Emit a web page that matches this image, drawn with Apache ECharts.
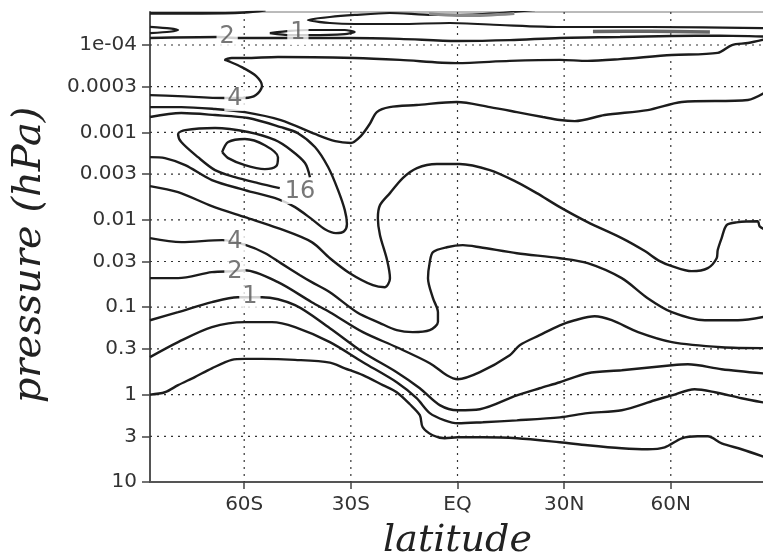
<!DOCTYPE html>
<html>
<head>
<meta charset="utf-8">
<script src="https://cdn.jsdelivr.net/npm/echarts@6/dist/echarts.min.js"></script>
<style>
  html, body { margin: 0; padding: 0; background: #fff; }
  #chart { width: 763px; height: 560px; }
</style>
</head>
<body>
<div id="chart"></div>
<script>
// ---- axes ----
const latMin = -86.5, latMax = 86.5;
const latTicks = [-60, -30, 0, 30, 60];
const latTickLabels = ['60S', '30S', 'EQ', '30N', '60N'];

const pressureTop = 4.19e-5, pressureBottom = 10;   // hPa
const pressureTicks = [1e-4, 3e-4, 1e-3, 3e-3, 0.01, 0.03, 0.1, 0.3, 1, 3, 10];
const pressureTickLabels = ['1e-04', '0.0003', '0.001', '0.003', '0.01', '0.03', '0.1', '0.3', '1', '3', '10'];

// ---- contour lines, [latitude, pressure (hPa)] ----
const contourBottomA = [[-86.5,1.0],[-82.3,0.94],[-78.6,0.78],[-73.9,0.63],[-69.1,0.50],[-63.5,0.40],[-59.8,0.39],[-55.0,0.39],[-45.7,0.40],[-35.9,0.43],[-31.7,0.50],[-26.6,0.60],[-21.0,0.78],[-17.1,0.94],[-13.4,1.29],[-10.6,1.72],[-9.8,2.36],[-7.0,2.92],[-3.6,3.16],[0.1,3.08],[7.1,3.08],[16.7,3.16],[28.8,3.51],[36.6,3.80],[46.2,4.11],[53.5,4.22],[58.3,4.01],[63.1,3.16],[67.6,3.0],[70.4,3.0],[74.3,3.61],[79.9,4.22],[86.5,5.2]];

const contourBottomB = [[-86.5,0.373],[-78.6,0.251],[-69.1,0.169],[-59.8,0.148],[-52.2,0.148],[-45.7,0.169],[-35.9,0.251],[-26.6,0.426],[-17.1,0.722],[-11.5,1.10],[-7.8,1.63],[-3.6,1.97],[0.1,2.13],[7.1,2.07],[16.7,1.97],[28.8,1.82],[36.6,1.63],[46.2,1.51],[55.5,1.16],[60.3,1.02],[66.7,0.868],[72.4,0.94],[79.9,1.10],[86.5,1.24]];

const contour1 = [[-86.5,0.141],[-78.6,0.114],[-69.1,0.0876],[-61.8,0.0768],[-55.0,0.0768],[-45.7,0.0948],[-35.9,0.174],[-26.6,0.327],[-17.1,0.554],[-10.6,0.846],[-5.0,1.32],[0.1,1.51],[6.3,1.47],[16.7,1.02],[23.1,0.846],[28.8,0.722],[36.6,0.569],[46.2,0.526],[60.3,0.461],[64.8,0.449],[74.3,0.512],[86.5,0.575]];

const contour2 = [[-86.5,0.0465],[-78.6,0.0465],[-69.1,0.0397],[-62.6,0.0387],[-59.8,0.0377],[-50.5,0.0517],[-41.0,0.0876],[-35.9,0.114],[-26.6,0.193],[-17.1,0.287],[-7.8,0.437],[-3.0,0.600],[0.1,0.667],[6.3,0.554],[14.7,0.354],[17.5,0.272],[23.1,0.209],[28.8,0.161],[33.0,0.141],[38.6,0.127],[43.4,0.141],[50.8,0.193],[60.3,0.251],[74.3,0.287],[86.5,0.294]];

const contour4 = [[-86.5,0.0162],[-77.7,0.018],[-66.2,0.0171],[-59.5,0.0195],[-54.1,0.0241],[-49.7,0.0313],[-44.3,0.043],[-41.0,0.0517],[-35.9,0.0673],[-28.3,0.114],[-21.8,0.152],[-17.1,0.183],[-12.6,0.193],[-7.8,0.183],[-5.5,0.148],[-5.5,0.114],[-6.9,0.0788],[-8.3,0.0465],[-7.8,0.0305],[-6.9,0.0234],[-3.0,0.0206],[1.5,0.0195],[6.3,0.0206],[16.7,0.0241],[28.8,0.0275],[36.6,0.0313],[46.2,0.0465],[53.5,0.0788],[60.3,0.114],[69.6,0.141],[78.9,0.141],[86.5,0.128]];

const contour8 = [[-86.5,4.11e-3],[-78.6,4.82e-3],[-69.1,6.97e-3],[-59.8,9.32e-3],[-50.5,0.01245],[-41.0,0.018],[-35.9,0.0275],[-30.3,0.0408],[-23.8,0.056],[-20.4,0.059],[-19.0,0.0465],[-19.8,0.029],[-21.8,0.015],[-22.4,9.57e-3],[-21.8,6.79e-3],[-19.0,4.95e-3],[-15.4,3.33e-3],[-11.4,2.56e-3],[-5.8,2.30e-3],[0.6,2.30e-3],[9.1,2.70e-3],[16.7,3.70e-3],[22.3,4.95e-3],[28.8,7.16e-3],[36.6,0.01063],[46.2,0.0162],[52.7,0.0228],[56.9,0.0297],[60.3,0.0339],[65.9,0.0387],[70.4,0.0357],[72.9,0.0275],[73.2,0.0222],[74.3,0.0162],[75.7,0.0115],[78.5,0.0107],[84.4,0.0104],[85.0,0.0119],[86.5,0.013]];

const contour8Loop = [[-86.5,6.67e-4],[-77.7,6.0e-4],[-68.2,6.33e-4],[-58.9,6.85e-4],[-49.7,8.69e-4],[-44.9,1.02e-3],[-40.1,1.47e-3],[-36.4,2.49e-3],[-33.6,4.57e-3],[-31.7,7.75e-3],[-31.1,0.0112],[-31.9,0.0135],[-34.2,0.0142],[-37.3,0.0128],[-41.0,9.82e-3],[-45.7,7.16e-3],[-50.5,5.80e-3],[-59.8,4.57e-3],[-69.1,3.51e-3],[-76.6,2.37e-3],[-82.3,1.97e-3],[-86.5,1.92e-3]];

const contour16 = [[-41.5,3.25e-3],[-42.9,2.24e-3],[-46.9,1.59e-3],[-51.4,1.22e-3],[-58.9,9.9e-4],[-68.2,8.91e-4],[-76.6,9.40e-4],[-78.6,1.04e-3],[-77.7,1.29e-3],[-73.0,1.92e-3],[-68.2,2.70e-3],[-62.6,3.25e-3],[-56.1,3.80e-3],[-50.0,4.34e-3]];

const contour32 = [[-66.2,1.68e-3],[-64.5,1.29e-3],[-59.8,1.19e-3],[-54.2,1.40e-3],[-50.5,1.92e-3],[-51.0,2.43e-3],[-54.2,2.63e-3],[-59.8,2.37e-3],[-64.5,1.97e-3],[-66.2,1.68e-3]];

const contourMeso = [[-86.5,5.13e-4],[-77.7,5.13e-4],[-68.2,5.40e-4],[-59.8,5.85e-4],[-49.7,7.22e-4],[-40.1,1.04e-3],[-34.4,1.26e-3],[-30.0,1.32e-3],[-27.2,1.10e-3],[-24.7,8.02e-4],[-22.7,5.85e-4],[-19.1,5.13e-4],[-11.5,4.86e-4],[-0.2,4.49e-4],[9.1,5.13e-4],[16.7,5.85e-4],[24.0,6.67e-4],[28.8,7.22e-4],[33.0,7.42e-4],[41.4,6.33e-4],[53.5,5.55e-4],[63.1,4.49e-4],[81.7,4.26e-4],[86.5,3.5e-4]];

const contour4Upper = [[-86.5,3.74e-4],[-78.6,3.84e-4],[-65.4,4.04e-4],[-59.8,4.04e-4],[-56.7,3.74e-4],[-55.0,2.95e-4],[-56.7,2.26e-4],[-60.7,1.79e-4],[-64.6,1.52e-4],[-65.4,1.48e-4],[-63.5,1.41e-4],[-59.8,1.41e-4],[-50.5,1.37e-4],[-28.9,1.41e-4],[-16.2,1.48e-4],[-0.2,1.61e-4],[14.7,1.52e-4],[28.8,1.48e-4],[36.6,1.52e-4],[45.7,1.45e-4],[60.3,1.30e-4],[73.2,1.23e-4],[77.2,1.0e-4],[81.7,9.48e-5],[86.5,8.6e-5]];

const contour2Upper = [[-86.5,8.3e-5],[-67.4,8.1e-5],[-61.8,8.3e-5],[-44.3,8.3e-5],[-30.3,8.3e-5],[-16.2,8.5e-5],[-0.2,9.0e-5],[14.7,8.8e-5],[28.8,8.3e-5],[45.7,8.1e-5],[60.3,7.9e-5],[73.8,7.8e-5],[86.5,8.0e-5]];

const contour1Upper = [[-52.8,7.3e-5],[-47.1,6.9e-5],[-41.5,6.73e-5],[-31.7,6.73e-5],[-28.9,7.1e-5],[-31.7,7.5e-5],[-41.5,7.7e-5],[-47.1,7.7e-5],[-52.8,7.3e-5]];

const contourTopTongue = [[-86.5,6.2e-5],[-81.0,6.45e-5],[-78.6,6.75e-5],[-81.0,7.05e-5],[-86.5,7.3e-5]];

const contourTopFold = [[24.5,3.8e-5],[21.2,4.0e-5],[7.1,4.42e-5],[-7.0,4.53e-5],[-19.1,4.30e-5],[-28.9,4.53e-5],[-35.9,4.78e-5],[-42.1,5.17e-5],[-35.9,5.60e-5],[-28.9,5.75e-5],[-16.2,5.75e-5],[-2.2,5.60e-5],[11.9,5.90e-5],[28.8,6.22e-5],[54.1,6.22e-5],[86.5,6.4e-5]];

const contourTopEdge = [[-86.5,4.35e-5],[-72.0,4.35e-5],[-60.0,4.25e-5],[-54.0,4.0e-5]];

const contourTopSliver = [[-8.0,4.4e-5],[0.0,4.6e-5],[8.0,4.55e-5],[16.0,4.35e-5]];
const contourTopLens = [[38.1,7.0e-5],[54.1,6.95e-5],[71.0,7.1e-5]];

// contour labels: [latitude, pressure (hPa), text]
const contourLabels = [
  [-64.8, 8.1e-5, '2'],
  [-44.9, 7.3e-5, '1'],
  [-62.6, 4.15e-4, '4'],
  [-44.3, 4.82e-3, '16'],
  [-62.6, 0.0180, '4'],
  [-62.6, 0.0397, '2'],
  [-58.4, 0.0768, '1']
];

// ---- build chart ----
const lg = (p) => Math.log10(p);
const yMin = lg(pressureTop), yMax = lg(pressureBottom);
const toXY = (arr) => arr.map(d => [d[0], lg(d[1])]);

const lineColor = '#1c1c1c';
function contourSeries(arr, opts) {
  opts = opts || {};
  return {
    type: 'line',
    data: toXY(arr),
    showSymbol: false,
    symbol: 'none',
    smooth: opts.smooth !== undefined ? opts.smooth : 0.3,
    clip: true,
    silent: true,
    z: 5,
    lineStyle: { color: opts.color || lineColor, width: opts.width || 2.4 },
    animation: false
  };
}

const gridDash = { type: [2, 5], color: '#333', width: 1.2 };
const gridSeries = [];
latTicks.forEach(lat => {
  gridSeries.push({
    type: 'line', data: [[lat, yMin], [lat, yMax]], showSymbol: false, symbol: 'none',
    silent: true, z: 1, lineStyle: gridDash, animation: false
  });
});
pressureTicks.filter(p => p < pressureBottom).forEach(p => {
  gridSeries.push({
    type: 'line', data: [[latMin, lg(p)], [latMax, lg(p)]], showSymbol: false, symbol: 'none',
    silent: true, z: 1, lineStyle: gridDash, animation: false
  });
});

const contours = [
  contourSeries(contourBottomA),
  contourSeries(contourBottomB),
  contourSeries(contour1),
  contourSeries(contour2),
  contourSeries(contour4),
  contourSeries(contour8),
  contourSeries(contour8Loop),
  contourSeries(contour16),
  contourSeries(contour32),
  contourSeries(contourMeso),
  contourSeries(contour4Upper),
  contourSeries(contour2Upper),
  contourSeries(contour1Upper, { smooth: 0.2, width: 2.2 }),
  contourSeries(contourTopTongue, { smooth: 0.2, width: 2.2 }),
  contourSeries(contourTopFold, { smooth: 0.25, width: 2.2 }),
  contourSeries(contourTopEdge, { width: 2.6 }),
  contourSeries(contourTopSliver, { width: 3, color: '#888' }),
  contourSeries(contourTopLens, { width: 3.5, color: '#666' })
];

const labelSeries = {
  type: 'scatter',
  data: contourLabels.map(d => ({ name: d[2], value: [d[0], lg(d[1])] })),
  symbolSize: 1,
  itemStyle: { color: 'rgba(0,0,0,0)' },
  silent: true,
  z: 10,
  animation: false,
  label: {
    show: true,
    position: 'inside',
    formatter: (p) => p.name,
    fontFamily: 'DejaVu Sans',
    fontSize: 24,
    color: '#555',
    backgroundColor: '#fff',
    padding: [0, 3]
  }
};

function pressureLabel(v) {
  let best = 0;
  for (let i = 1; i < pressureTicks.length; i++) {
    if (Math.abs(lg(pressureTicks[i]) - v) < Math.abs(lg(pressureTicks[best]) - v)) best = i;
  }
  return pressureTickLabels[best];
}
function latLabel(v) {
  const i = latTicks.indexOf(Math.round(v));
  return i >= 0 ? latTickLabels[i] : '';
}

const tickFont = { fontFamily: 'DejaVu Sans', fontSize: 20, color: '#333' };
const titleFont = { fontFamily: 'DejaVu Serif', fontStyle: 'italic', fontSize: 38, color: '#222' };

const chart = echarts.init(document.getElementById('chart'), null, { renderer: 'canvas' });
chart.setOption({
  animation: false,
  backgroundColor: '#fff',
  grid: {
    left: 150, top: 12, width: 615, height: 470,
    outerBoundsMode: 'none', containLabel: false,
    show: true, borderColor: '#777', borderWidth: 1
  },
  xAxis: {
    type: 'value', min: latMin, max: latMax,
    axisLine: { show: true, onZero: false, lineStyle: { color: '#555', width: 2 } },
    axisTick: { show: true, length: 7, customValues: latTicks, lineStyle: { color: '#444', width: 1.5 } },
    axisLabel: Object.assign({ customValues: latTicks, formatter: latLabel, margin: 13 }, tickFont),
    splitLine: { show: false },
    name: 'latitude', nameLocation: 'middle', nameGap: 40,
    nameTextStyle: titleFont
  },
  yAxis: {
    type: 'value', inverse: true, min: yMin, max: yMax,
    axisLine: { show: true, onZero: false, lineStyle: { color: '#555', width: 2 } },
    axisTick: { show: true, length: 8, customValues: pressureTicks.map(lg), lineStyle: { color: '#444', width: 1.5 } },
    axisLabel: Object.assign({ customValues: pressureTicks.map(lg), formatter: pressureLabel, margin: 13 }, tickFont),
    splitLine: { show: false },
    name: 'pressure (hPa)', nameLocation: 'middle', nameGap: 100,
    nameTextStyle: Object.assign({}, titleFont, { fontSize: 40, padding: [0, 16, 0, 0] })
  },
  series: gridSeries.concat(contours, [labelSeries])
});
</script>
</body>
</html>
